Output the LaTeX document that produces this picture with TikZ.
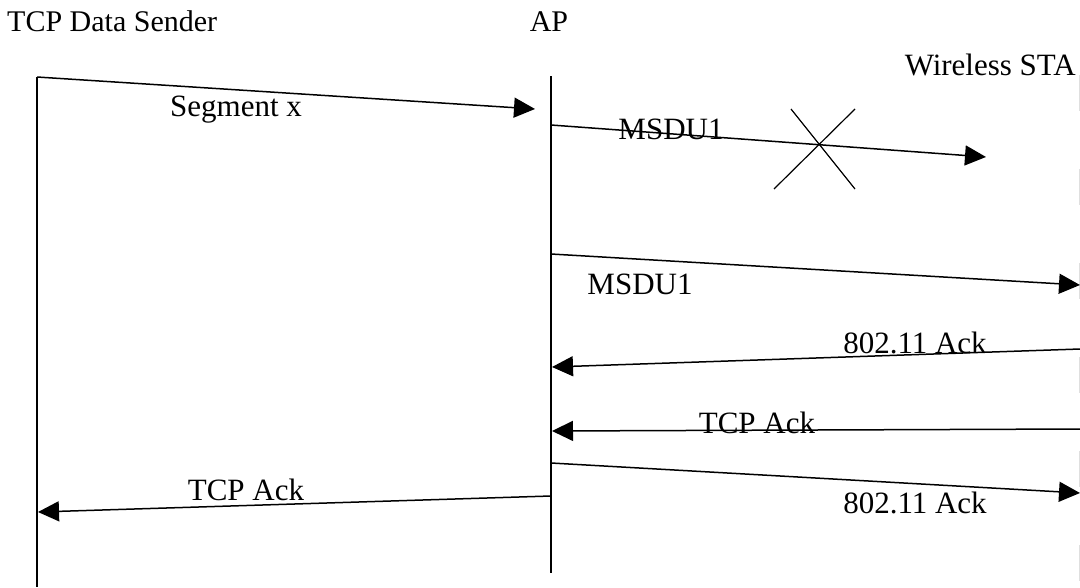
\documentclass[tikz,border=0pt]{standalone}
\usepackage{fontspec}
\setmainfont{Liberation Serif}
\usetikzlibrary{arrows.meta}
\begin{document}
\begin{tikzpicture}[x=1pt,y=-1pt,
  lifeline/.style={line width=1.4pt},
  msg/.style={line width=1.5pt,-{Triangle[length=21pt,width=20pt]}},
  lbl/.style={font=\fontsize{31}{35}\selectfont,inner sep=0pt,anchor=base},
  head/.style={font=\fontsize{30}{34}\selectfont,inner sep=0pt}]
\useasboundingbox (0,0) rectangle (1080,587);

% participant names
\node[head,anchor=base west] (tsender) at (7,31) {TCP Data Sender};
\node[head,anchor=base] (tap) at (549,31) {AP};
\node[head,font=\fontsize{31}{35}\selectfont,anchor=base east] (tsta) at (1076,75) {Wireless STA};

% lifelines
\coordinate (s0) at (37,77);   \coordinate (s1) at (37,587);
\coordinate (a0) at (551,76);  \coordinate (a1) at (551,573);
\coordinate (w0) at (1079,75); \coordinate (w1) at (1079,587);
\draw[lifeline] (s0) -- (s1);
\draw[lifeline] (a0) -- (a1);
\draw[gray!25,line width=1pt,dash pattern=on 36pt off 58pt] (w0) -- (w1);

% message endpoints
\coordinate (m1a) at (37,77);    \coordinate (m1b) at (535,109);
\coordinate (m2a) at (551,125);  \coordinate (m2b) at (986,157);
\coordinate (m3a) at (551,254);  \coordinate (m3b) at (1080,285);
\coordinate (m4a) at (1080,349); \coordinate (m4b) at (552,367);
\coordinate (m5a) at (1080,429); \coordinate (m5b) at (552,431);
\coordinate (m6a) at (551,463);  \coordinate (m6b) at (1080,493);
\coordinate (m7a) at (551,496);  \coordinate (m7b) at (38,512);

\draw[msg] (m1a) -- (m1b);
\draw[msg] (m2a) -- (m2b);
\draw[msg] (m3a) -- (m3b);
\draw[msg] (m4a) -- (m4b);
\draw[msg] (m5a) -- (m5b);
\draw[msg] (m6a) -- (m6b);
\draw[msg] (m7a) -- (m7b);

% lost frame mark
\coordinate (x1) at (791,109); \coordinate (x2) at (855,189);
\coordinate (x3) at (855,109); \coordinate (x4) at (774,189);
\draw[line width=1.2pt] (x1) -- (x2);
\draw[line width=1.2pt] (x3) -- (x4);

% message labels
\node[lbl] (l1) at (236,116) {Segment x};
\node[lbl] (l2) at (671,139) {MSDU1};
\node[lbl] (l3) at (640,294) {MSDU1};
\node[lbl] (l4) at (915,353) {802.11 Ack};
\node[lbl] (l5) at (757,433) {TCP Ack};
\node[lbl] (l6) at (915,513) {802.11 Ack};
\node[lbl] (l7) at (246,500) {TCP Ack};
\end{tikzpicture}
\end{document}
